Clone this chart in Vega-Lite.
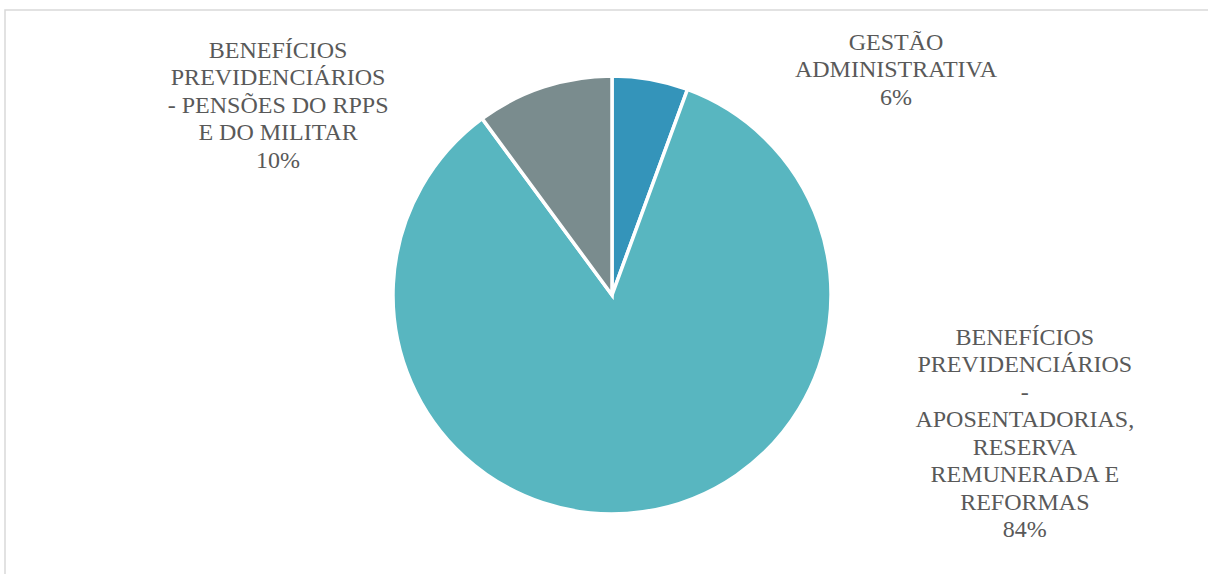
{
  "$schema": "https://vega.github.io/schema/vega-lite/v6.json",
  "width": 1214,
  "height": 570,
  "autosize": {"type": "none"},
  "padding": {"left": 5, "top": 10, "right": 0, "bottom": 0},
  "background": "white",
  "view": {"stroke": "#d9d9d9", "strokeWidth": 1.5},
  "data": {
    "values": [
      {"categoria": "GESTÃO ADMINISTRATIVA", "valor": 5.6, "ordem": 1, "rotulo": "GESTÃO\nADMINISTRATIVA\n6%"},
      {"categoria": "BENEFÍCIOS PREVIDENCIÁRIOS - APOSENTADORIAS, RESERVA REMUNERADA E REFORMAS", "valor": 84.3, "ordem": 2, "rotulo": "BENEFÍCIOS\nPREVIDENCIÁRIOS\n-\nAPOSENTADORIAS,\nRESERVA\nREMUNERADA E\nREFORMAS\n84%"},
      {"categoria": "BENEFÍCIOS PREVIDENCIÁRIOS - PENSÕES DO RPPS E DO MILITAR", "valor": 10.1, "ordem": 3, "rotulo": "BENEFÍCIOS\nPREVIDENCIÁRIOS\n- PENSÕES DO RPPS\nE DO MILITAR\n10%"}
    ]
  },
  "encoding": {
    "theta": {"field": "valor", "type": "quantitative", "stack": true},
    "order": {"field": "ordem", "type": "quantitative"}
  },
  "layer": [
    {
      "mark": {"type": "arc", "outerRadius": 219, "stroke": "white", "strokeWidth": 3.5},
      "encoding": {
        "color": {
          "field": "categoria",
          "type": "nominal",
          "scale": {
            "domain": ["GESTÃO ADMINISTRATIVA", "BENEFÍCIOS PREVIDENCIÁRIOS - APOSENTADORIAS, RESERVA REMUNERADA E REFORMAS", "BENEFÍCIOS PREVIDENCIÁRIOS - PENSÕES DO RPPS E DO MILITAR"],
            "range": ["#3494BA", "#58B6C0", "#7A8C8E"]
          },
          "legend": null
        }
      }
    },
    {
      "mark": {"type": "text", "radius": 240, "dx": 242, "dy": -16, "align": "center", "baseline": "middle", "lineBreak": "\n", "font": "Liberation Serif", "fontSize": 24, "lineHeight": 27.5, "fill": "#595959"},
      "encoding": {"text": {"condition": {"test": "datum.ordem == 1", "field": "rotulo"}, "value": ""}}
    },
    {
      "mark": {"type": "text", "radius": 240, "dx": 379, "dy": -195, "align": "center", "baseline": "middle", "lineBreak": "\n", "font": "Liberation Serif", "fontSize": 24, "lineHeight": 27.5, "fill": "#595959"},
      "encoding": {"text": {"condition": {"test": "datum.ordem == 2", "field": "rotulo"}, "value": ""}}
    },
    {
      "mark": {"type": "text", "radius": 240, "dx": -259, "dy": -16, "align": "center", "baseline": "middle", "lineBreak": "\n", "font": "Liberation Serif", "fontSize": 24, "lineHeight": 27.5, "fill": "#595959"},
      "encoding": {"text": {"condition": {"test": "datum.ordem == 3", "field": "rotulo"}, "value": ""}}
    }
  ]
}
